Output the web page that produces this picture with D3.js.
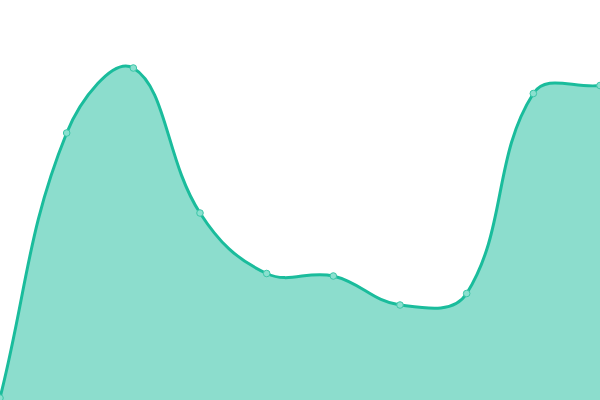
<!DOCTYPE html>
<html><head><meta charset="utf-8">
<script src="https://cdn.jsdelivr.net/npm/d3@7"></script>
<style>html,body{margin:0;padding:0;background:#fff;overflow:hidden}svg{display:block}</style>
</head><body>
<svg id="chart" width="600" height="400"></svg>
<script>
const categories = [0, 1, 2, 3, 4, 5, 6, 7, 8, 9];
const values = [2, 267, 332, 187, 126.5, 124, 95, 106.5, 306.5, 314.5];

const W = 600, H = 400;
const svg = d3.select("#chart");
const x = d3.scaleLinear().domain([0, categories.length - 1]).range([0, W]);
const y = d3.scaleLinear().domain([0, 400]).range([H, 0]);
const data = categories.map((c, i) => ({c, v: values[i]}));

// Distance-weighted spline curve (tension 0.4) as a D3 curve factory
class TensionSpline {
  constructor(context, t) { this._context = context; this._t = t; }
  areaStart() { this._line = 0; }
  areaEnd() { this._line = NaN; }
  lineStart() { this._pts = []; }
  point(px, py) { this._pts.push([+px, +py]); }
  lineEnd() {
    const p = this._pts, n = p.length, c = this._context, t = this._t;
    const cap = (v, lo, hi) => Math.max(lo, Math.min(hi, v));
    if (n) {
      if (this._line) c.lineTo(p[0][0], p[0][1]); else c.moveTo(p[0][0], p[0][1]);
      const cps = p.map((cur, i) => {
        const prev = p[i - 1] || cur, next = p[i + 1] || cur;
        const d01 = Math.hypot(cur[0] - prev[0], cur[1] - prev[1]);
        const d12 = Math.hypot(next[0] - cur[0], next[1] - cur[1]);
        let s01 = d01 / (d01 + d12), s12 = d12 / (d01 + d12);
        if (!isFinite(s01)) s01 = 0; if (!isFinite(s12)) s12 = 0;
        const fa = t * s01, fb = t * s12;
        return {
          px: cap(cur[0] - fa * (next[0] - prev[0]), 0, W), py: cap(cur[1] - fa * (next[1] - prev[1]), 0, H),
          nx: cap(cur[0] + fb * (next[0] - prev[0]), 0, W), ny: cap(cur[1] + fb * (next[1] - prev[1]), 0, H)
        };
      });
      for (let i = 0; i < n - 1; i++) {
        c.bezierCurveTo(cps[i].nx, cps[i].ny, cps[i + 1].px, cps[i + 1].py, p[i + 1][0], p[i + 1][1]);
      }
    }
    if (this._line || (this._line !== 0 && n === 1)) c.closePath();
    this._line = 1 - this._line;
  }
}
const curve = ctx => new TensionSpline(ctx, 0.4);

svg.append("path").datum(data)
  .attr("d", d3.area().x(d => x(d.c)).y0(H).y1(d => y(d.v)).curve(curve))
  .attr("fill", "#1abc9c").attr("fill-opacity", 0.5);
svg.append("path").datum(data)
  .attr("d", d3.line().x(d => x(d.c)).y(d => y(d.v)).curve(curve))
  .attr("fill", "none").attr("stroke", "#1abc9c").attr("stroke-width", 3);
svg.selectAll("circle").data(data).join("circle")
  .attr("cx", d => x(d.c)).attr("cy", d => y(d.v)).attr("r", 3.3)
  .attr("fill", "#8ae0cf").attr("stroke", "#3cc6a8").attr("stroke-width", 1);
</script>
</body></html>
